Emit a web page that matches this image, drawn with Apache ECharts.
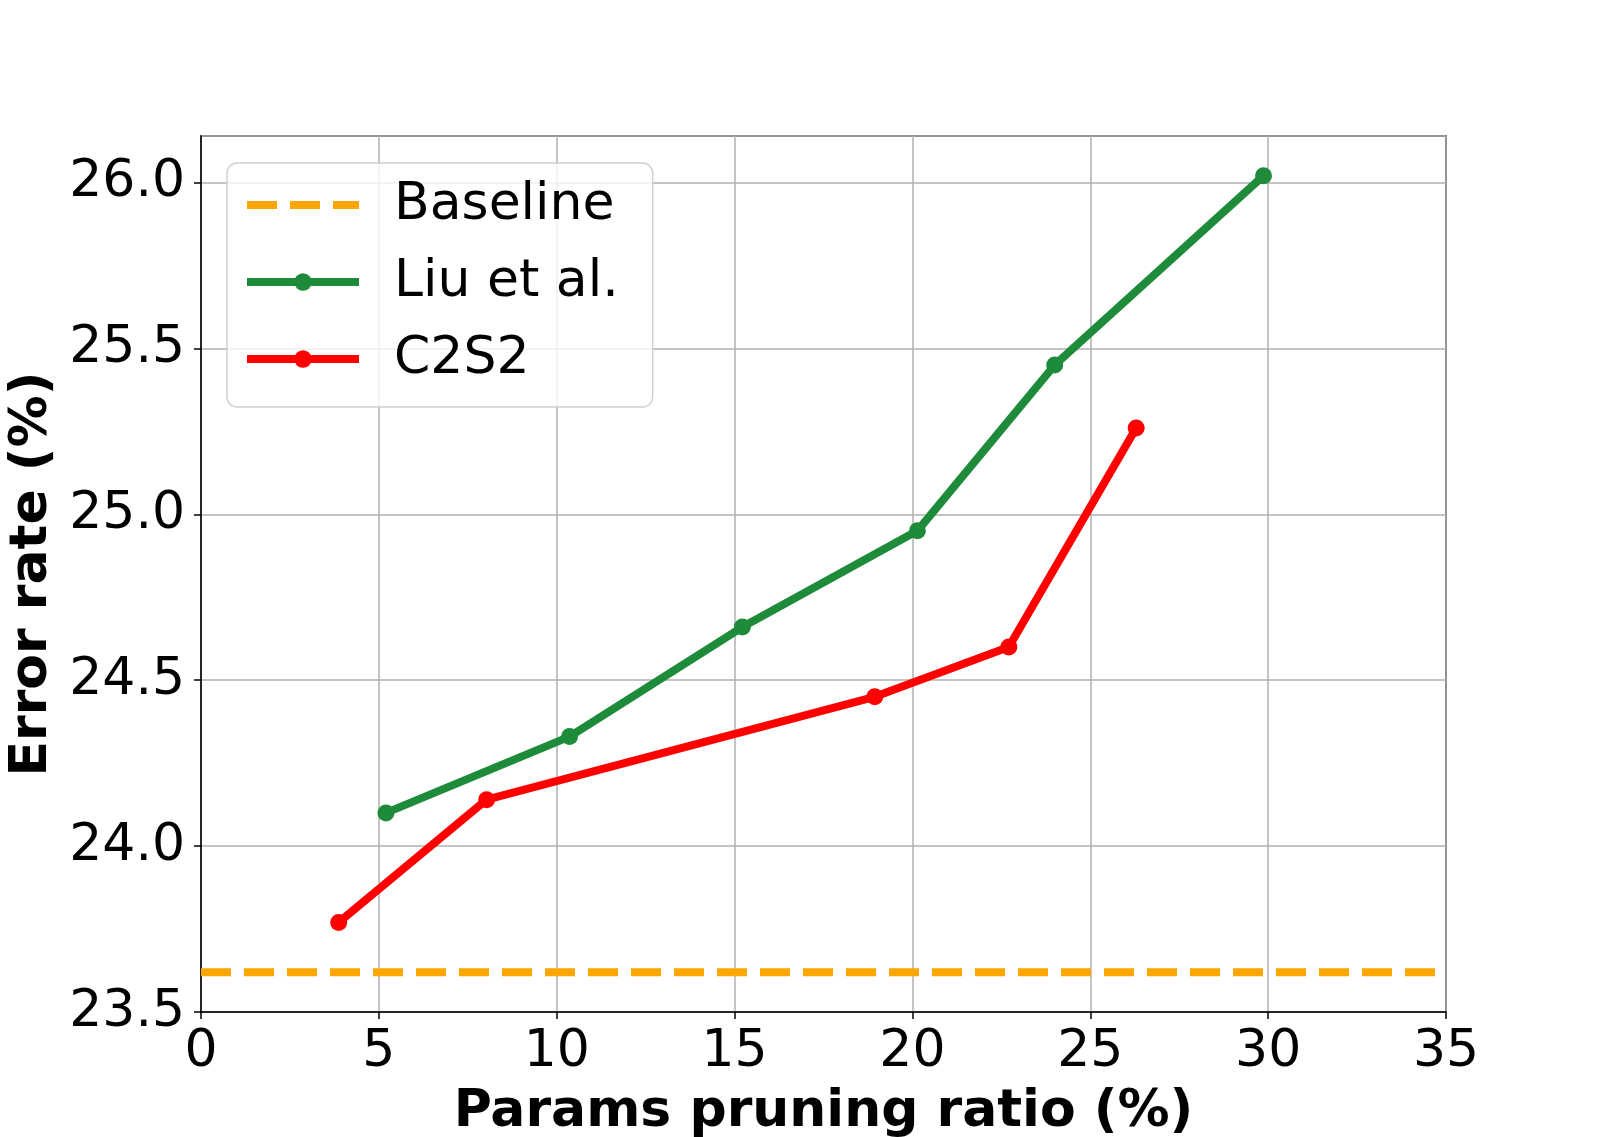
<!DOCTYPE html>
<html>
<head>
<meta charset="utf-8">
<script src="https://cdn.jsdelivr.net/npm/echarts@6/dist/echarts.min.js"></script>
<style>
  html, body { margin: 0; padding: 0; background: #fff; }
  #errchart { width: 1607px; height: 1137px; }
</style>
</head>
<body>
<div id="errchart"></div>
<script>
// values
var liuX = [5.2, 10.36, 15.22, 20.14, 24.0, 29.87];
var liuY = [24.10, 24.33, 24.66, 24.95, 25.45, 26.02];
var c2s2X = [3.87, 8.03, 18.94, 22.71, 26.29];
var c2s2Y = [23.77, 24.14, 24.45, 24.60, 25.26];
var baselineX = [0, 35];
var baselineY = [23.62, 23.62];

function pairs(xs, ys) {
  return xs.map(function (x, i) { return [x, ys[i]]; });
}

var font = 'DejaVu Sans';
const errChart = echarts.init(document.getElementById('errchart'));
var option = {
  animation: false,
  grid: {
    left: 201, top: 136, right: 161, bottom: 125,
    outerBoundsMode: 'none', containLabel: false,
    show: true, borderColor: '#000', borderWidth: 1.5
  },
  legend: {
    left: 227, top: 163,
    orient: 'vertical',
    itemWidth: 112, itemHeight: 22,
    itemGap: 17,
    padding: [12, 34, 18, 16],
    backgroundColor: 'rgba(255,255,255,0.8)',
    borderColor: '#d0d0d0', borderWidth: 1.5, borderRadius: 10,
    textStyle: { fontFamily: font, fontSize: 52, color: '#000', lineHeight: 60, padding: [0, 0, 0, 30] },
    lineStyle: { width: 8 },
    data: [
      { name: 'Baseline', itemStyle: { opacity: 0 }, lineStyle: { width: 8, type: [30, 13] } },
      { name: 'Liu et al.' },
      { name: 'C2S2' }
    ]
  },
  xAxis: {
    type: 'value', min: 0, max: 35, interval: 5,
    name: 'Params pruning ratio (%)',
    nameLocation: 'middle', nameGap: 74,
    nameTextStyle: { fontFamily: font, fontSize: 52, fontWeight: 'bold', color: '#000' },
    axisLine: { lineStyle: { color: '#000', width: 1.5 } },
    axisTick: { show: true, length: 7, lineStyle: { color: '#000', width: 1.5 } },
    axisLabel: { fontFamily: font, fontSize: 52, color: '#000', margin: 14 },
    splitLine: { show: true, lineStyle: { color: '#b0b0b0', width: 1.5 } }
  },
  yAxis: {
    type: 'value', min: 23.5, max: 26.14, interval: 0.5,
    name: 'Error rate (%)',
    nameLocation: 'middle', nameGap: 143, nameRotate: 90,
    nameTextStyle: { fontFamily: font, fontSize: 52, fontWeight: 'bold', color: '#000' },
    axisLine: { lineStyle: { color: '#000', width: 1.5 } },
    axisTick: { show: true, length: 7, lineStyle: { color: '#000', width: 1.5 } },
    axisLabel: {
      fontFamily: font, fontSize: 52, color: '#000', margin: 16,
      formatter: function (v) { return v.toFixed(1); }
    },
    splitLine: { show: true, lineStyle: { color: '#b0b0b0', width: 1.5 } }
  },
  series: [
    {
      name: 'Baseline', type: 'line',
      data: pairs(baselineX, baselineY),
      symbol: 'none',
      color: '#ffa500',
      lineStyle: { color: '#ffa500', width: 8, type: [30, 13] }
    },
    {
      name: 'Liu et al.', type: 'line',
      data: pairs(liuX, liuY),
      symbol: 'circle', symbolSize: 17,
      color: '#1e8b3a',
      itemStyle: { color: '#1e8b3a' },
      lineStyle: { color: '#1e8b3a', width: 8 }
    },
    {
      name: 'C2S2', type: 'line',
      data: pairs(c2s2X, c2s2Y),
      symbol: 'circle', symbolSize: 17,
      color: '#ff0000',
      itemStyle: { color: '#ff0000' },
      lineStyle: { color: '#ff0000', width: 8 }
    }
  ]
};
option && errChart.setOption(option);
</script>
</body>
</html>
